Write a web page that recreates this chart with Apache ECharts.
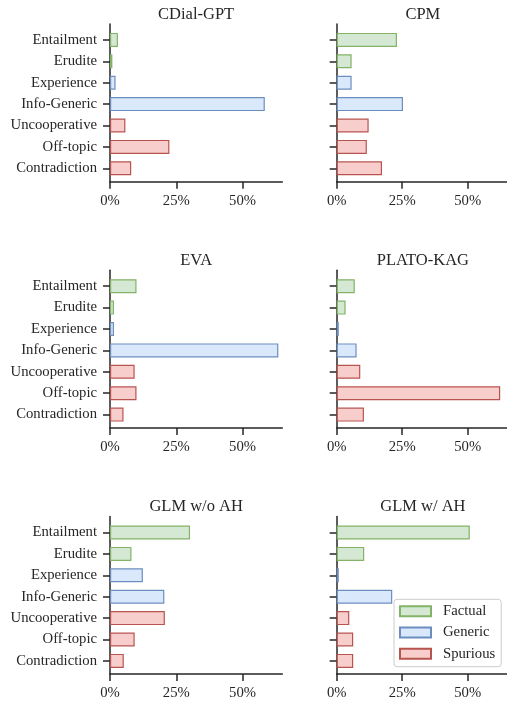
<!DOCTYPE html>
<html>
<head>
<meta charset="utf-8">
<script src="https://cdn.jsdelivr.net/npm/echarts@6/dist/echarts.min.js"></script>
<style>
  html, body { margin: 0; padding: 0; background: #ffffff; }
  #chart { width: 507px; height: 701px; }
</style>
</head>
<body>
<div id="chart"></div>
<script>
// ---- data ----
const categories = ['Entailment', 'Erudite', 'Experience', 'Info-Generic', 'Uncooperative', 'Off-topic', 'Contradiction'];
const categoryGroup = ['Factual', 'Factual', 'Generic', 'Generic', 'Spurious', 'Spurious', 'Spurious'];
const groups = ['Factual', 'Generic', 'Spurious'];
const models = ['CDial-GPT', 'CPM', 'EVA', 'PLATO-KAG', 'GLM w/o AH', 'GLM w/ AH'];
const cdialGpt = [3.0, 0.9, 2.1, 58.4, 5.8, 22.4, 8.0];
const cpm = [23.0, 5.7, 5.7, 25.3, 12.2, 11.5, 17.3];
const eva = [10.0, 1.5, 1.5, 63.5, 9.3, 10.0, 5.1];
const platoKag = [6.9, 3.4, 0.8, 7.6, 9.0, 62.4, 10.4];
const glmWoAh = [30.2, 8.1, 12.4, 20.5, 20.7, 9.3, 5.2];
const glmWAh = [50.8, 10.5, 0.8, 21.2, 4.8, 6.3, 6.3];
const panelValues = [cdialGpt, cpm, eva, platoKag, glmWoAh, glmWAh];
const xTicks = [0, 25, 50];
const xMax = 65;

// ---- styles ----
const FONT = 'Liberation Serif';
const INK = '#262626';
const groupStyle = {
  Factual:  { color: '#d5e8d4', borderColor: '#82b366' },
  Generic:  { color: '#dae8fc', borderColor: '#6c8ebf' },
  Spurious: { color: '#f8cecc', borderColor: '#b85450' }
};

// ---- layout ----
const colLeft = [110, 336.7];
const plotWidth = 172.3;
const rowStep = 246.3;
const axisTop = 24, axisHeight = 157.7;
const bandTop = 29.2, bandHeight = 149.8;
const titleCenterY = 15.3;

const grid = [], xAxis = [], yAxis = [], series = [], title = [];

models.forEach((name, p) => {
  const col = p % 2, row = Math.floor(p / 2);
  const left = colLeft[col];
  const off = row * rowStep;
  // grid A: bars
  grid.push({ left: left, top: bandTop + off, width: plotWidth, height: bandHeight, containLabel: false });
  // grid B: axis frame
  grid.push({ left: left, top: axisTop + off, width: plotWidth, height: axisHeight, containLabel: false });
  const gA = 2 * p, gB = 2 * p + 1;

  xAxis.push({ type: 'value', gridIndex: gA, min: 0, max: xMax, show: false });
  xAxis.push({
    type: 'value', gridIndex: gB, min: 0, max: xMax,
    axisLine: { show: true, lineStyle: { color: INK, width: 1.5 } },
    axisTick: { show: true, length: 7, lineStyle: { color: INK, width: 1.5 }, customValues: xTicks },
    axisLabel: { show: true, customValues: xTicks, formatter: '{value}%', margin: 12,
                 fontFamily: FONT, fontSize: 14.7, color: INK },
    splitLine: { show: false }
  });

  yAxis.push({
    type: 'category', gridIndex: gA, data: categories, inverse: true,
    axisLine: { show: false },
    axisTick: { show: true, length: 7, alignWithLabel: true, lineStyle: { color: INK, width: 1.5 } },
    axisLabel: { show: col === 0, margin: 13, fontFamily: FONT, fontSize: 14.7, color: INK },
    splitLine: { show: false }
  });
  yAxis.push({
    type: 'value', gridIndex: gB, min: 0, max: 1,
    axisLine: { show: true, onZero: false, lineStyle: { color: INK, width: 1.5 } },
    axisTick: { show: false }, axisLabel: { show: false }, splitLine: { show: false }
  });

  const vals = panelValues[p];
  groups.forEach(g => {
    series.push({
      type: 'bar', name: g,
      xAxisIndex: gA, yAxisIndex: gA,
      stack: 'panel' + p,
      barWidth: 14,
      data: vals.map((v, i) => categoryGroup[i] === g ? v : '-'),
      itemStyle: { color: groupStyle[g].color, borderColor: groupStyle[g].borderColor, borderWidth: 1.2 },
      emphasis: { disabled: true },
      silent: true
    });
  });

  title.push({
    text: name,
    left: left + 86.15,
    top: titleCenterY + off - 9.5,
    textAlign: 'center',
    padding: 0,
    textStyle: { fontFamily: FONT, fontSize: 16.5, fontWeight: 'normal', color: INK }
  });
});

const chart = echarts.init(document.getElementById('chart'), null, { renderer: 'canvas' });
chart.setOption({
  animation: false,
  backgroundColor: '#ffffff',
  title: title,
  grid: grid,
  xAxis: xAxis,
  yAxis: yAxis,
  series: series,
  legend: {
    data: groups,
    orient: 'vertical',
    left: 394,
    top: 599.3,
    selectedMode: false,
    icon: 'rect',
    itemWidth: 31,
    itemHeight: 10,
    itemGap: 5.2,
    padding: [4, 6, 5, 5],
    backgroundColor: 'rgba(255,255,255,0.85)',
    borderColor: '#cccccc',
    borderWidth: 1,
    borderRadius: 3,
    textStyle: { fontFamily: FONT, fontSize: 14.7, color: INK, lineHeight: 16, padding: [0, 0, 0, 7] }
  }
});
</script>
</body>
</html>
